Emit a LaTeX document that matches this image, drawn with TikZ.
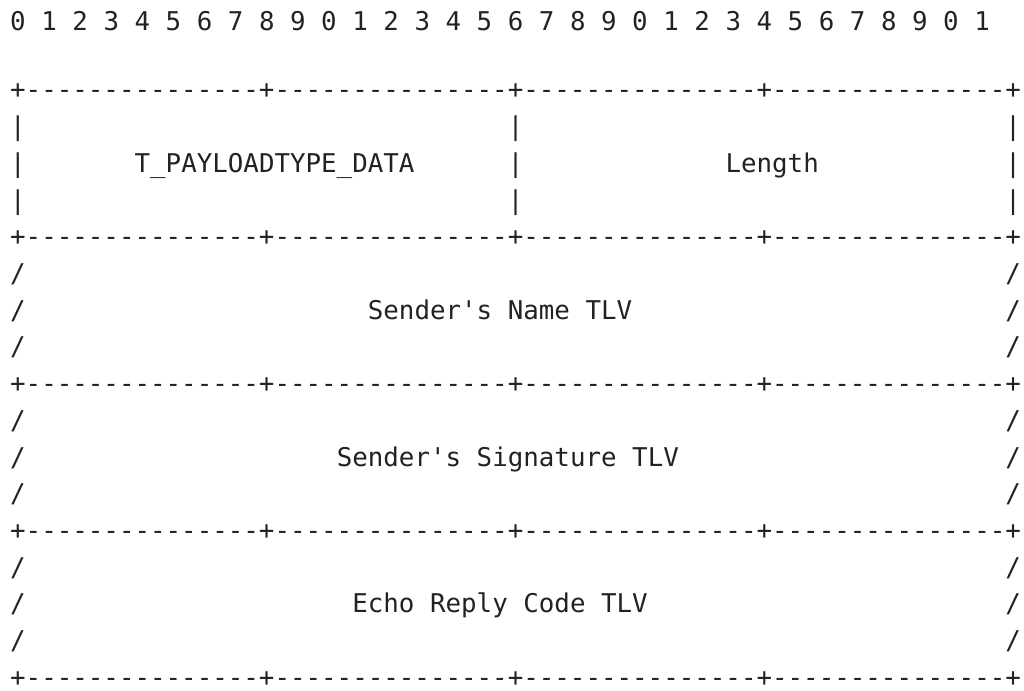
\documentclass[tikz,border=0pt]{standalone}
\usepackage{fontspec}
\setmonofont{DejaVu Sans Mono}
\definecolor{ink}{RGB}{34,34,34}
\begin{document}
\begin{tikzpicture}[x=1pt,y=1pt,
  row/.style={anchor=base west, inner sep=0pt, outer sep=0pt,
    font=\ttfamily\fontsize{25.83}{30}\selectfont, text=ink}]
\useasboundingbox (0,0) rectangle (1024,-690);
% bit numbers
\foreach \i in {0,...,31}{
  \pgfmathtruncatemacro\d{mod(\i,10)}
  \node[row] (bit\i) at ({10.2+31.1*\i},-30.5) {\d};
}
% border rows
\foreach \r in {0,4,8,12,16}{
  \node[row] (border\r) at (10.2,{-99-36.7*\r}) {+---------------+---------------+---------------+---------------+};
}
% first word: vertical bars
\foreach \r in {1,2,3}{
  \foreach \c in {0,32,64}{
    \node[row] (bar\r-\c) at ({10.2+15.55*\c},{-99-36.7*\r}) {|};
  }
}
% variable-length fields: slashes
\foreach \r in {5,6,7,9,10,11,13,14,15}{
  \foreach \c in {0,64}{
    \node[row] (slash\r-\c) at ({10.2+15.55*\c},{-99-36.7*\r}) {/};
  }
}
% labels
\node[row] (ptype) at ({10.2+15.55*8},{-99-36.7*2}) {T\_PAYLOADTYPE\_DATA};
\node[row] (length) at ({10.2+15.55*46},{-99-36.7*2}) {Length};
\node[row] (name) at ({10.2+15.55*23},{-99-36.7*6}) {Sender's Name TLV};
\node[row] (sig) at ({10.2+15.55*21},{-99-36.7*10}) {Sender's Signature TLV};
\node[row] (echo) at ({10.2+15.55*22},{-99-36.7*14}) {Echo Reply Code TLV};
\end{tikzpicture}
\end{document}
